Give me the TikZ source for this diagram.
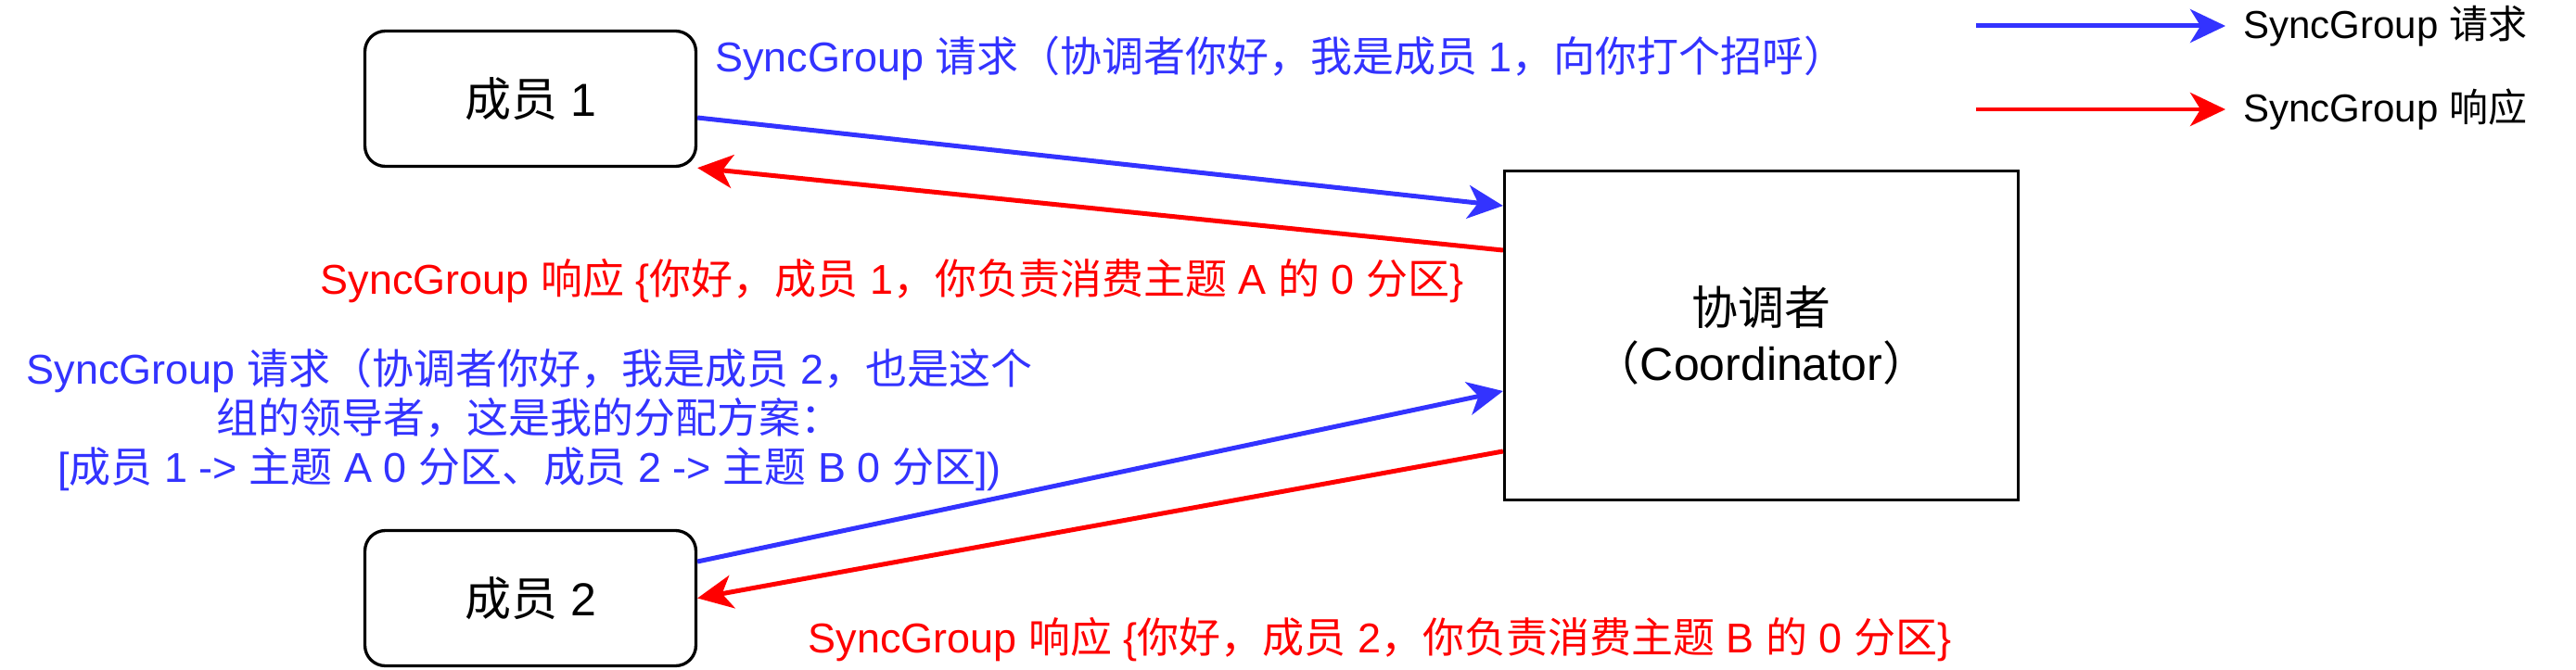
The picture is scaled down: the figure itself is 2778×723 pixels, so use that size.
\documentclass[tikz,border=0pt]{standalone}
\usepackage{fontspec}
\setmainfont{Liberation Sans}
\newfontfamily\cjk{Noto Sans CJK SC}
\usetikzlibrary{arrows.meta,calc}
\XeTeXinterchartokenstate=1
\newXeTeXintercharclass\CJKcls
\newcount\cjkcnt
\cjkcnt="4E00\relax
\loop\XeTeXcharclass\cjkcnt=\CJKcls\relax\ifnum\cjkcnt<"9FFF\relax\advance\cjkcnt by 1\relax\repeat
\cjkcnt="3000\relax
\loop\XeTeXcharclass\cjkcnt=\CJKcls\relax\ifnum\cjkcnt<"303F\relax\advance\cjkcnt by 1\relax\repeat
\cjkcnt="FF00\relax
\loop\XeTeXcharclass\cjkcnt=\CJKcls\relax\ifnum\cjkcnt<"FFEF\relax\advance\cjkcnt by 1\relax\repeat
\XeTeXinterchartoks 0 \CJKcls = {\cjk}
\XeTeXinterchartoks 4095 \CJKcls = {\cjk}
\XeTeXinterchartoks \CJKcls 0 = {\rmfamily}
\XeTeXinterchartoks \CJKcls 4095 = {\rmfamily}
\definecolor{reqblue}{HTML}{3333FF}
\definecolor{respred}{HTML}{FF0000}
\tikzset{
  member/.style={draw=black, line width=0.066cm, rounded corners=0.44cm,
    minimum width=7.14cm, minimum height=2.92cm, inner sep=0pt,
    font=\fontsize{28.45}{34.1}\selectfont},
  coordbox/.style={draw=black, line width=0.066cm,
    minimum width=11.08cm, minimum height=7.1cm, inner sep=0pt, align=center,
    font=\fontsize{28.45}{34.1}\selectfont},
  req/.style={draw=reqblue, line width=0.1cm,
    -{Stealth[length=0.76cm, width=0.72cm, inset=0.22cm]}},
  resp/.style={draw=respred, line width=0.1cm,
    -{Stealth[length=0.76cm, width=0.72cm, inset=0.22cm]}},
  lbl/.style={inner sep=0pt, align=center, font=\fontsize{25.6}{30.2}\selectfont},
  legendtxt/.style={inner sep=0pt, anchor=west, text=black,
    font=\fontsize{23.9}{28}\selectfont}
}
\begin{document}
\begin{tikzpicture}[x=0.02cm, y=-0.02cm]
\useasboundingbox[fill=white] (0,0) rectangle (2778,723);
% boxes
\node[member] (m1) at (572,106.5) {成员 1};
\node[member] (m2) at (572,645.5) {成员 2};
\node[coordbox] (co) at (1899.5,362) {协调者\\（Coordinator）};
% connectors
\draw[req] ([yshift=-0.41cm]m1.east) -- ([yshift=2.8cm]co.west);
\draw[resp] ([yshift=1.84cm]co.west) -- (m1.south east);
\draw[req] ([yshift=0.79cm]m2.east) -- ([yshift=-1.2cm]co.west);
\draw[resp] ([yshift=-2.5cm]co.west) -- (m2.east);
% labels
\node[lbl, text=reqblue] (t1) at (1381,63) {SyncGroup 请求（协调者你好，我是成员 1，向你打个招呼）};
\node[lbl, text=respred] (t2) at (962,303) {SyncGroup 响应 \{你好，成员 1，你负责消费主题 A 的 0 分区\}};
\node[lbl, text=reqblue] (t3) at (571,453) {SyncGroup 请求（协调者你好，我是成员 2，也是这个\\组的领导者，这是我的分配方案：\\{[}成员 1 -> 主题 A 0 分区、成员 2 -> 主题 B 0 分区{]})};
\node[lbl, text=respred] (t4) at (1488,690) {SyncGroup 响应 \{你好，成员 2，你负责消费主题 B 的 0 分区\}};
% legend
\coordinate (l1s) at (2131,28);
\coordinate (l1e) at (2400,28);
\coordinate (l2s) at (2131,118);
\coordinate (l2e) at (2400,118);
\draw[req] (l1s) -- (l1e);
\draw[resp] (l2s) -- (l2e);
\node[legendtxt] (lg1) at (2419,28) {SyncGroup 请求};
\node[legendtxt] (lg2) at (2419,118) {SyncGroup 响应};
\end{tikzpicture}
\end{document}
